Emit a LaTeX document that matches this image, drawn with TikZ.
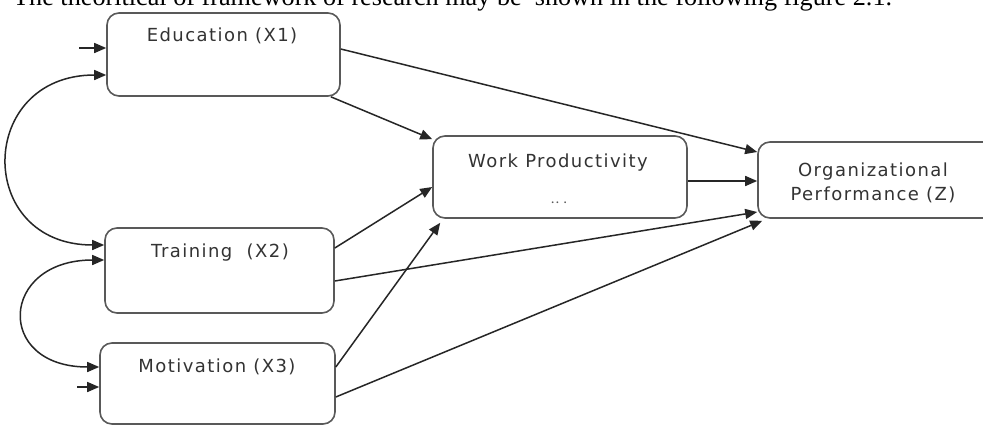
\documentclass[tikz,border=0pt]{standalone}
\usepackage{fontspec}
\setmainfont{Liberation Serif}
\newfontfamily\boxfont[LetterSpace=8]{DejaVu Sans}
\usetikzlibrary{arrows.meta}
\begin{document}
\begin{tikzpicture}[x=1pt,y=-1pt,
  blk/.style={draw=black!65, line width=1.6pt, rounded corners=12pt, inner sep=0pt},
  lbl/.style={font=\boxfont\fontsize{18}{22}\selectfont, text=black!80, inner sep=0pt, align=center},
  conn/.style={draw=black!85, line width=1.5pt, -{Triangle[length=12pt,width=10pt]}},
  bicon/.style={draw=black!85, line width=1.5pt, {Triangle[length=12pt,width=10pt]}-{Triangle[length=12pt,width=10pt]}}
]
\useasboundingbox (0,0) rectangle (983,426);
\clip (0,0) rectangle (983,426);
\fill[white] (0,0) rectangle (983,426);

\node[anchor=base west, font=\fontsize{26.2}{30}\selectfont, inner sep=0pt] (title) at (13,5.5)
  {The theoritical of framework of research may be\ \ shown in the following figure 2.1.};

% boxes
\node[blk, minimum width=233pt, minimum height=83pt] (edu) at (223.5,54.5) {};
\node[blk, minimum width=229pt, minimum height=85pt] (tra) at (219.5,270.5) {};
\node[blk, minimum width=235pt, minimum height=81pt] (mot) at (217.5,383.5) {};
\node[blk, minimum width=254pt, minimum height=82pt] (wp) at (560,177) {};
\node[blk, minimum width=242pt, minimum height=76pt] (org) at (879,180) {};

% labels
\node[lbl] (tedu) at (222,36) {Education (X1)};
\node[lbl] (ttra) at (220,253) {Training\ \ (X2)};
\node[lbl] (tmot) at (217,367) {Motivation (X3)};
\node[lbl] (twp) at (558,163) {Work Productivity};
\node[font=\fontsize{11}{11}\selectfont\bfseries, text=black!65, inner sep=0pt] (tdots) at (559,203) {.\,.\hspace{5pt}.};
\node[lbl] (torg) at (873,183) {Organizational\\[2pt]Performance (Z)};

% connectors
\draw[conn] ([yshift=5.5pt]edu.east) -- ([yshift=28pt]org.west);
\draw[conn] ([xshift=-10pt]edu.south east) -- ([yshift=-4pt]wp.north west);
\draw[conn] ([yshift=22.5pt]tra.east) -- ([yshift=-10pt]wp.west);
\draw[conn] ([yshift=-10.5pt]tra.east) -- ([yshift=-32pt]org.west);
\draw[conn] ([yshift=16.5pt]mot.east) -- ([xshift=8pt,yshift=-4pt]wp.south west);
\draw[conn] ([yshift=-13.5pt]mot.east) -- ([xshift=5pt,yshift=-2pt]org.south west);
\draw[conn] ([yshift=-4pt]wp.east) -- ([yshift=-1pt]org.west);

% inputs on the left
\coordinate (in1) at (79,48);
\coordinate (in3) at (77,387);
\draw[conn] (in1) -- ([yshift=6.5pt]edu.west);
\draw[conn] (in3) -- ([yshift=-3.5pt]mot.west);

% correlation curves
\draw[bicon] ([yshift=-20.5pt]edu.west) to[out=180,in=180,looseness=1.95] ([yshift=25.5pt]tra.west);
\draw[bicon] ([yshift=10.5pt]tra.west) to[out=180,in=180,looseness=2.5] ([yshift=16.5pt]mot.west);
\end{tikzpicture}
\end{document}
